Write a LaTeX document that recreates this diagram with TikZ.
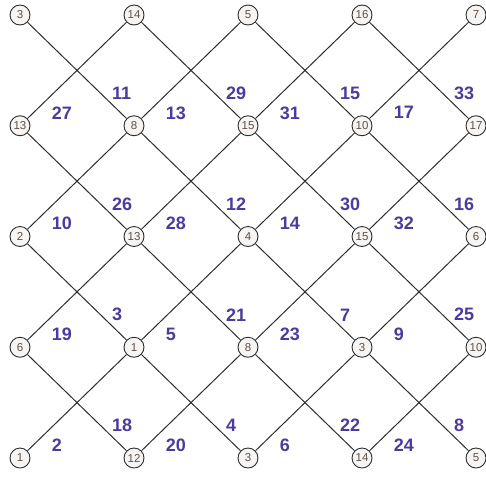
\documentclass[tikz,border=0pt]{standalone}
\usepackage{fontspec}
\setmainfont{Liberation Sans}
\usepackage{tikz}
\usetikzlibrary{positioning}
\usepackage{xcolor}
\definecolor{labelpurple}{RGB}{78,58,158}
\definecolor{vertexbrown}{RGB}{95,80,72}
\definecolor{vertexfill}{RGB}{246,245,243}
\definecolor{edgegray}{RGB}{45,45,45}

\tikzset{
  vertex/.style={circle,draw=edgegray,fill=vertexfill,line width=0.9pt,
    minimum size=20pt,inner sep=0pt,text=vertexbrown,
    font=\fontsize{11.5}{12}\selectfont},
  edge/.style={edgegray,line width=1pt},
  elab/.style={text=labelpurple,inner sep=1pt,
    font=\fontsize{18}{19}\selectfont\bfseries}
}

\begin{document}
\begin{tikzpicture}[x=1pt,y=-1pt]
  \useasboundingbox (0,0) rectangle (486,477);

  % Vertices, row by row
  \foreach \lab [count=\k from 0] in {
    3,14,5,16,7,
    13,8,15,10,17,
    2,13,4,15,6,
    6,1,8,3,10,
    1,12,3,14,5}
  {
    \pgfmathtruncatemacro{\i}{mod(\k,5)}
    \pgfmathtruncatemacro{\j}{div(\k,5)}
    \node[vertex] (n\i\j) at ({20+114*\i},{15+110.75*\j}) {\lab};
  }

  % Edges: i/j/label of down-right edge/label of down-left edge
  \foreach \i/\j/\a/\b in {
    0/0/11/27, 1/0/29/13, 2/0/15/31, 3/0/33/17,
    0/1/26/10, 1/1/12/28, 2/1/30/14, 3/1/16/32,
    0/2/3/19,  1/2/21/5,  2/2/7/23,  3/2/25/9,
    0/3/18/2,  1/3/4/20,  2/3/22/6,  3/3/8/24}
  {
    \pgfmathtruncatemacro{\ii}{\i+1}
    \pgfmathtruncatemacro{\jj}{\j+1}
    \draw[edge] (n\i\j) -- node[elab,pos=0.84,above right,yshift=2pt] {\a} (n\ii\jj);
    \draw[edge] (n\ii\j) -- node[elab,pos=0.84,below right,xshift=7pt,yshift=-2pt] {\b} (n\i\jj);
  }
\end{tikzpicture}
\end{document}
